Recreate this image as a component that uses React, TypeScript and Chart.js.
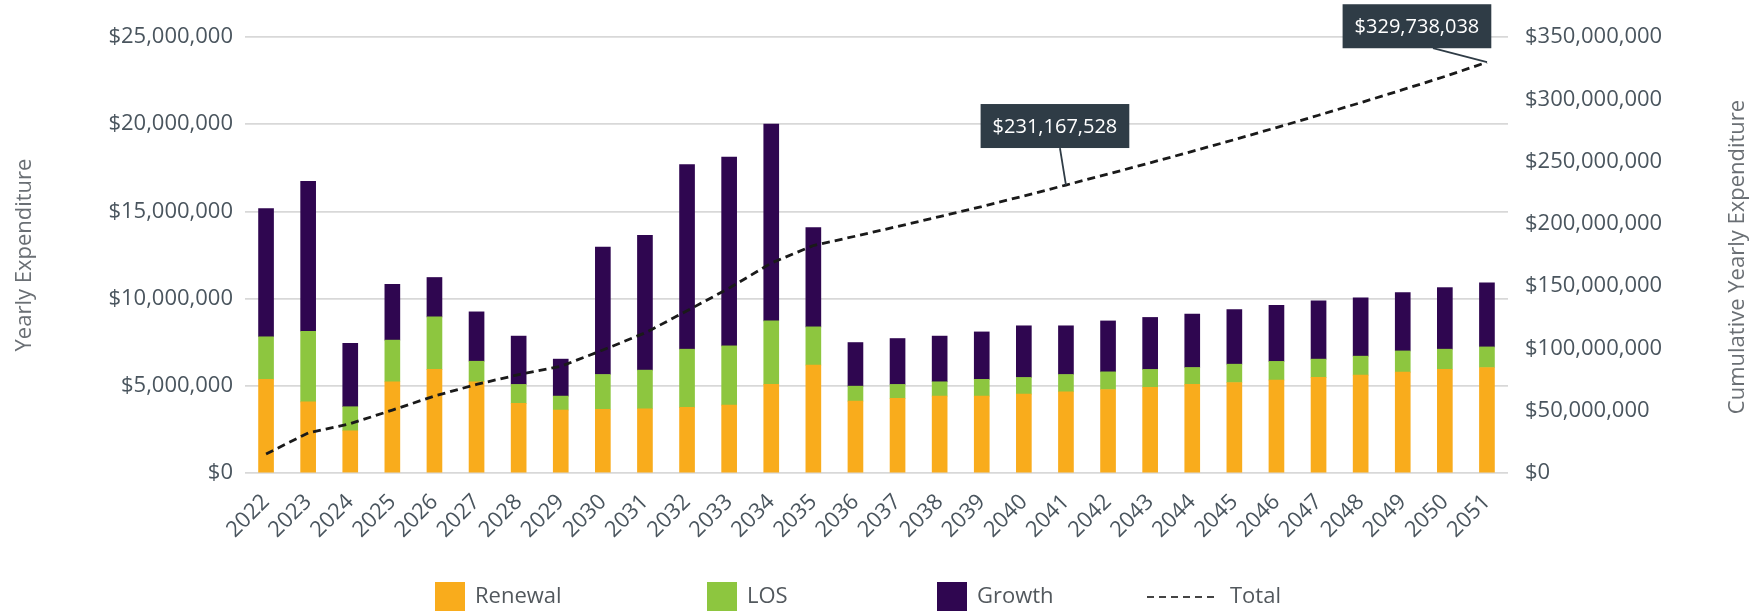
import React, { useEffect, useRef } from 'react';
import { Chart, registerables } from 'chart.js';

Chart.register(...registerables);

const years = [
  '2022', '2023', '2024', '2025', '2026', '2027', '2028', '2029', '2030', '2031',
  '2032', '2033', '2034', '2035', '2036', '2037', '2038', '2039', '2040', '2041',
  '2042', '2043', '2044', '2045', '2046', '2047', '2048', '2049', '2050', '2051',
];

const renewal = [
  5370000, 4080000, 2420000, 5230000, 5940000, 5230000, 3990000, 3610000, 3650000, 3680000,
  3760000, 3890000, 5080000, 6190000, 4120000, 4280000, 4410000, 4410000, 4520000, 4660000,
  4790000, 4910000, 5080000, 5190000, 5330000, 5480000, 5610000, 5780000, 5940000, 6050000,
];

const los = [
  2440000, 4050000, 1380000, 2390000, 3010000, 1180000, 1090000, 800000, 2000000, 2220000,
  3340000, 3400000, 3640000, 2190000, 860000, 800000, 820000, 960000, 960000, 990000,
  1010000, 1030000, 970000, 1050000, 1070000, 1050000, 1090000, 1220000, 1160000, 1180000,
];

const growth = [
  7350000, 8590000, 3630000, 3200000, 2260000, 2830000, 2770000, 2120000, 7310000, 7730000,
  10580000, 10830000, 11280000, 5690000, 2500000, 2630000, 2620000, 2720000, 2960000, 2790000,
  2920000, 2980000, 3060000, 3130000, 3220000, 3340000, 3340000, 3350000, 3530000, 3670000,
];

const total = [
  15300000, 32100000, 39600000, 50500000, 61800000, 71100000, 79000000, 85600000, 98700000, 112400000,
  130200000, 148400000, 168500000, 182600000, 190100000, 197900000, 205800000, 213900000, 222400000, 231167528,
  240000000, 249000000, 258200000, 267600000, 277300000, 287200000, 297300000, 307700000, 318300000, 329738038,
];

const leftTicks = { min: 0, max: 25000000, step: 5000000 };
const rightTicks = { min: 0, max: 350000000, step: 50000000 };

const calloutIndexes = [19, 29];

const COLORS = {
  renewal: '#F9AC1C',
  los: '#8DC63F',
  growth: '#2F0650',
  total: '#1a1a1a',
  grid: '#D8D8D8',
  tick: '#4A555E',
  title: '#6A6F74',
  legend: '#52585D',
  callout: '#2F3C46',
};

const FONT = "'Open Sans', 'DejaVu Sans', sans-serif";

const fmt = (v: number) => '$' + Math.round(v).toLocaleString('en-US');

// positional styling for callouts (offsets relative to the data point)
const calloutStyle = [
  { dx: -11, gap: 37, lineDx: -6 },
  { dx: -70, gap: 14, lineDx: -54 },
];

const calloutPlugin = {
  id: 'callouts',
  afterDatasetsDraw(chart: any) {
    const ctx = chart.ctx as CanvasRenderingContext2D;
    const meta = chart.getDatasetMeta(3);
    calloutIndexes.forEach((idx, k) => {
      const pt = meta.data[idx];
      if (!pt) return;
      const st = calloutStyle[k];
      const text = fmt(total[idx]);
      ctx.save();
      ctx.font = `20px ${FONT}`;
      const tw = ctx.measureText(text).width;
      const w = tw + 24;
      const h = 44;
      const cx = pt.x + st.dx;
      const bottom = pt.y - st.gap;
      const left = cx - w / 2;
      const top = bottom - h;
      ctx.strokeStyle = COLORS.callout;
      ctx.lineWidth = 1.8;
      ctx.beginPath();
      ctx.moveTo(pt.x + st.lineDx, bottom);
      ctx.lineTo(pt.x, pt.y);
      ctx.stroke();
      ctx.fillStyle = COLORS.callout;
      ctx.fillRect(left, top, w, h);
      ctx.fillStyle = '#FFFFFF';
      ctx.textAlign = 'center';
      ctx.textBaseline = 'middle';
      ctx.fillText(text, cx, top + h / 2 + 1);
      ctx.restore();
    });
  },
};

const legendItems = [
  { label: 'Renewal', color: COLORS.renewal, x: 435, kind: 'box' },
  { label: 'LOS', color: COLORS.los, x: 707, kind: 'box' },
  { label: 'Growth', color: COLORS.growth, x: 937, kind: 'box' },
  { label: 'Total', color: '#444', x: 1147, kind: 'line' },
];

const extrasPlugin = {
  id: 'extras',
  afterDraw(chart: any) {
    const ctx = chart.ctx as CanvasRenderingContext2D;
    const area = chart.chartArea;
    ctx.save();
    // legend
    const cy = 597;
    ctx.font = `22px ${FONT}`;
    ctx.textBaseline = 'middle';
    ctx.textAlign = 'left';
    legendItems.forEach((it) => {
      if (it.kind === 'box') {
        ctx.fillStyle = it.color;
        ctx.fillRect(it.x, 582, 30, 29);
        ctx.fillStyle = COLORS.legend;
        ctx.fillText(it.label, it.x + 40, cy);
      } else {
        ctx.strokeStyle = it.color;
        ctx.lineWidth = 2;
        ctx.setLineDash([7, 5]);
        ctx.beginPath();
        ctx.moveTo(it.x, cy);
        ctx.lineTo(it.x + 68, cy);
        ctx.stroke();
        ctx.setLineDash([]);
        ctx.fillStyle = COLORS.legend;
        ctx.fillText(it.label, it.x + 83, cy);
      }
    });
    // right axis title (reads bottom to top)
    ctx.translate(1738, (area.top + area.bottom) / 2 + 2);
    ctx.rotate(-Math.PI / 2);
    ctx.textAlign = 'center';
    ctx.fillStyle = COLORS.title;
    ctx.font = `22px ${FONT}`;
    ctx.fillText('Cumulative Yearly Expenditure', 0, 0);
    ctx.restore();
  },
};

export default function App() {
  const canvasRef = useRef<HTMLCanvasElement | null>(null);

  useEffect(() => {
    const canvas = canvasRef.current;
    if (!canvas) return;
    Chart.defaults.font.family = FONT;
    const chart = new Chart(canvas, {
      type: 'bar',
      data: {
        labels: years,
        datasets: [
          {
            type: 'bar',
            label: 'Renewal',
            data: renewal,
            backgroundColor: COLORS.renewal,
            barThickness: 15,
            yAxisID: 'y',
            stack: 'yearly',
            order: 1,
          },
          {
            type: 'bar',
            label: 'LOS',
            data: los,
            backgroundColor: COLORS.los,
            barThickness: 15,
            yAxisID: 'y',
            stack: 'yearly',
            order: 1,
          },
          {
            type: 'bar',
            label: 'Growth',
            data: growth,
            backgroundColor: COLORS.growth,
            barThickness: 15,
            yAxisID: 'y',
            stack: 'yearly',
            order: 1,
          },
          {
            type: 'line',
            label: 'Total',
            data: total,
            borderColor: COLORS.total,
            borderWidth: 2.8,
            borderDash: [8, 5],
            pointRadius: 0,
            tension: 0,
            fill: false,
            yAxisID: 'y1',
            order: 0,
          } as any,
        ],
      },
      options: {
        responsive: false,
        animation: false,
        devicePixelRatio: 1,
        layout: { padding: { top: 37, left: 0, right: 0, bottom: 0 } },
        plugins: {
          legend: { display: false },
          tooltip: { enabled: false },
        },
        scales: {
          x: {
            stacked: true,
            offset: true,
            grid: { display: false, drawTicks: false },
            border: { display: false },
            ticks: {
              color: COLORS.tick,
              font: { size: 22 },
              minRotation: 45,
              maxRotation: 45,
              padding: 16,
              autoSkip: false,
            },
            afterFit(scale: any) {
              scale.height = 138;
            },
          },
          y: {
            type: 'linear',
            position: 'left',
            stacked: true,
            min: leftTicks.min,
            max: leftTicks.max,
            grid: { color: COLORS.grid, lineWidth: 1.8, drawTicks: false },
            border: { display: false },
            ticks: {
              stepSize: leftTicks.step,
              color: COLORS.tick,
              font: { size: 22 },
              padding: 12,
              callback: (v: any) => fmt(Number(v)),
            },
            title: {
              display: true,
              text: 'Yearly Expenditure',
              color: COLORS.title,
              font: { size: 22 },
              padding: { top: 12, bottom: 0 },
            },
            afterFit(scale: any) {
              scale.width = 245;
            },
          },
          y1: {
            type: 'linear',
            position: 'right',
            min: rightTicks.min,
            max: rightTicks.max,
            grid: { display: false, drawTicks: false },
            border: { display: false },
            ticks: {
              stepSize: rightTicks.step,
              color: COLORS.tick,
              font: { size: 22 },
              padding: 17,
              callback: (v: any) => fmt(Number(v)),
            },
            afterFit(scale: any) {
              scale.width = 244;
            },
          },
        },
      },
      plugins: [calloutPlugin, extrasPlugin],
    });
    return () => chart.destroy();
  }, []);

  return (
    <div style={{ position: 'absolute', left: 0, top: 0, width: 1752, height: 611, background: '#fff' }}>
      <canvas ref={canvasRef} width={1752} height={611} style={{ width: 1752, height: 611, display: 'block' }} />
    </div>
  );
}
